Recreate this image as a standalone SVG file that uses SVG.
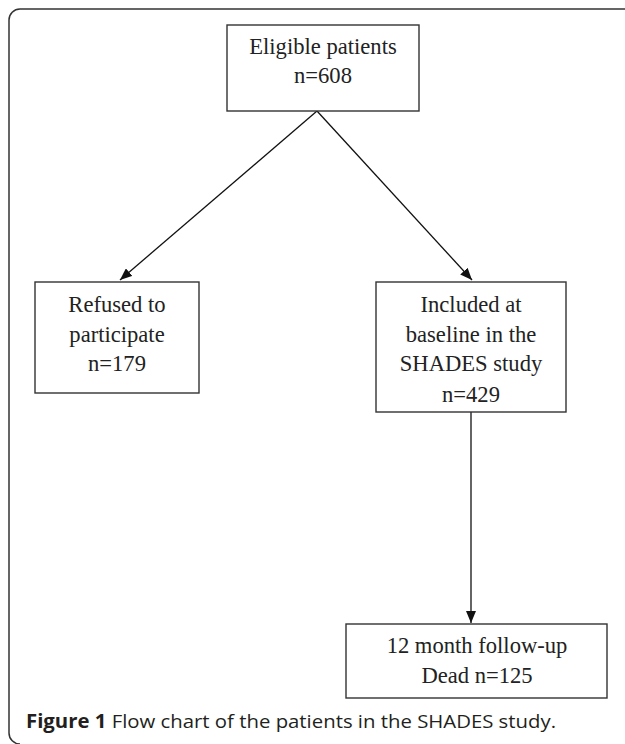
<svg xmlns="http://www.w3.org/2000/svg" width="625" height="744" viewBox="0 0 625 744">
<style>
.box{fill:#fff;stroke:#333;stroke-width:1.4}
.t{font-family:"Liberation Serif","Times New Roman",serif;font-size:22.6px;fill:#222;text-anchor:middle}
.edge{stroke:#111;stroke-width:1.3;fill:none;marker-end:url(#ah)}
.cap{font-family:"Open Sans","Noto Sans",sans-serif;font-size:19px;fill:#231f20}
</style>
<defs>
<marker id="ah" viewBox="0 0 12 10" refX="12" refY="5" markerWidth="12" markerHeight="10" markerUnits="userSpaceOnUse" orient="auto">
<path d="M0,0 L12,5 L0,10 Z" fill="#111"/>
</marker>
</defs>
<path d="M625 9 H20 A11 11 0 0 0 9 20 V733 A11 11 0 0 0 20 744" fill="none" stroke="#333" stroke-width="1.5"/>
<g id="connectors">
<line class="edge" x1="317" y1="111" x2="120" y2="280"/>
<line class="edge" x1="317" y1="111" x2="472" y2="280"/>
<line class="edge" x1="471" y1="412" x2="471" y2="623"/>
</g>
<g id="eligible">
<rect class="box" x="227" y="25" width="192" height="86"/>
<text class="t" x="323" y="54">Eligible patients</text>
<text class="t" x="323" y="83">n=608</text>
</g>
<g id="refused">
<rect class="box" x="35" y="282" width="164" height="111"/>
<text class="t" x="117" y="311.5">Refused to</text>
<text class="t" x="117" y="341.5">participate</text>
<text class="t" x="117" y="371">n=179</text>
</g>
<g id="included">
<rect class="box" x="376" y="282" width="190" height="130"/>
<text class="t" x="471" y="311.5">Included at</text>
<text class="t" x="471" y="341.5">baseline in the</text>
<text class="t" x="471" y="371">SHADES study</text>
<text class="t" x="471" y="401.5">n=429</text>
</g>
<g id="followup">
<rect class="box" x="346" y="624" width="261" height="74"/>
<text class="t" x="477" y="653.3">12 month follow-up</text>
<text class="t" x="477" y="683.3">Dead n=125</text>
</g>
<text class="cap" x="26" y="728" textLength="530" lengthAdjust="spacingAndGlyphs"><tspan font-weight="bold">Figure 1</tspan> Flow chart of the patients in the SHADES study.</text>
</svg>
